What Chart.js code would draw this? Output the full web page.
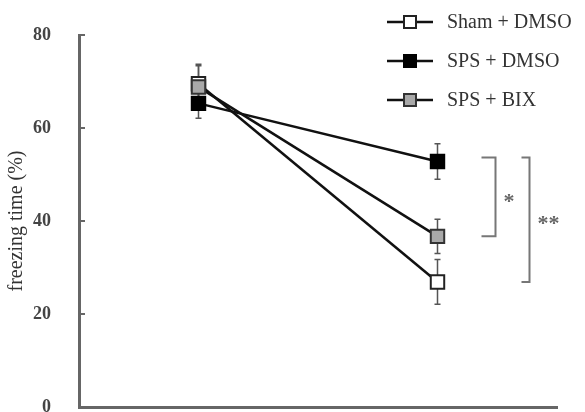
<!DOCTYPE html>
<html>
<head>
<meta charset="utf-8">
<script src="https://cdn.jsdelivr.net/npm/chart.js@4/dist/chart.umd.min.js"></script>
<style>
html,body{margin:0;padding:0;background:#fff;}
canvas{display:block;}
</style>
</head>
<body>
<canvas id="c" width="585" height="412"></canvas>
<script>
// ---- data ----
const categories = ['Pre', 'Post'];
const seriesNames = ['Sham + DMSO', 'SPS + DMSO', 'SPS + BIX'];
const shamDmso = [69.5, 26.9];
const shamDmsoErr = [4.2, 4.8];
const spsDmso = [65.3, 52.8];
const spsDmsoErr = [3.2, 3.8];
const spsBix = [68.8, 36.7];
const spsBixErr = [4.6, 3.7];
const yTicks = [0, 20, 40, 60, 80];
const yTitle = 'freezing time (%)';
const sigPairs = [[1, 2, '*'], [1, 0, '**']];

const values = [shamDmso, spsDmso, spsBix];
const errors = [shamDmsoErr, spsDmsoErr, spsBixErr];
const fills = ['#ffffff', '#000000', '#a9a9a9'];
const borders = ['#222222', '#000000', '#333333'];
const orders = [2, 1, 0];

const FONT = "'Liberation Serif', 'DejaVu Serif', serif";

const datasets = seriesNames.map((name, i) => ({
  label: name,
  data: values[i],
  borderColor: '#111',
  borderWidth: 2.5,
  pointStyle: 'rect',
  pointRadius: 9.5,
  pointHoverRadius: 9.5,
  pointBackgroundColor: fills[i],
  pointBorderColor: borders[i],
  pointBorderWidth: 2,
  order: orders[i],
  tension: 0
}));

const extras = {
  id: 'extras',
  beforeDatasetsDraw(chart) {
    const ctx = chart.ctx;
    const xs = chart.scales.x, ys = chart.scales.y;
    ctx.save();
    ctx.strokeStyle = '#555';
    ctx.lineWidth = 1.5;
    values.forEach((arr, i) => {
      arr.forEach((v, j) => {
        const x = xs.getPixelForValue(j);
        const yt = ys.getPixelForValue(v + errors[i][j]);
        const yb = ys.getPixelForValue(v - errors[i][j]);
        ctx.beginPath();
        ctx.moveTo(x, yt); ctx.lineTo(x, yb);
        ctx.moveTo(x - 3, yt); ctx.lineTo(x + 3, yt);
        ctx.moveTo(x - 3, yb); ctx.lineTo(x + 3, yb);
        ctx.stroke();
      });
    });
    ctx.restore();
  },
  afterDraw(chart) {
    const ctx = chart.ctx;
    const xs = chart.scales.x, ys = chart.scales.y;
    const area = chart.chartArea;
    ctx.save();
    ctx.strokeStyle = '#666';
    ctx.lineWidth = 2;
    yTicks.forEach(v => {
      const y = ys.getPixelForValue(v);
      ctx.beginPath();
      ctx.moveTo(area.left, y);
      ctx.lineTo(area.left + 6, y);
      ctx.stroke();
    });
    const last = categories.length - 1;
    const px = xs.getPixelForValue(last);
    ctx.strokeStyle = '#777';
    ctx.lineWidth = 2;
    ctx.fillStyle = '#666';
    ctx.textAlign = 'left';
    ctx.textBaseline = 'middle';
    sigPairs.forEach((p, k) => {
      const yA = ys.getPixelForValue(values[p[0]][last]) - 4;
      const yB = ys.getPixelForValue(values[p[1]][last]);
      const armX = px + 44 + k * 40;
      const vx = armX + 14 - k * 6;
      ctx.beginPath();
      ctx.moveTo(armX, yA); ctx.lineTo(vx, yA); ctx.lineTo(vx, yB); ctx.lineTo(armX, yB);
      ctx.stroke();
      ctx.font = 'bold 22px ' + FONT;
      ctx.fillText(p[2], vx + 8, (yA + yB) / 2 + 5);
    });
    seriesNames.forEach((name, i) => {
      const cy = 22 + i * 39;
      ctx.strokeStyle = '#111';
      ctx.lineWidth = 2.5;
      ctx.beginPath();
      ctx.moveTo(387, cy); ctx.lineTo(433, cy);
      ctx.stroke();
      ctx.fillStyle = fills[i];
      ctx.fillRect(404, cy - 6, 12, 12);
      ctx.strokeStyle = borders[i];
      ctx.lineWidth = 2;
      ctx.strokeRect(404, cy - 6, 12, 12);
      ctx.fillStyle = '#333';
      ctx.font = '20px ' + FONT;
      ctx.textAlign = 'left';
      ctx.textBaseline = 'middle';
      ctx.fillText(name, 447, cy + 1);
    });
    ctx.restore();
  }
};

new Chart(document.getElementById('c'), {
  type: 'line',
  data: { labels: categories, datasets },
  options: {
    responsive: false,
    animation: false,
    devicePixelRatio: 1,
    layout: { autoPadding: false, padding: { top: 35, right: 28, left: 0, bottom: 0 } },
    plugins: { legend: { display: false }, tooltip: { enabled: false } },
    scales: {
      x: {
        type: 'category',
        offset: true,
        grid: { display: false },
        border: { display: true, color: '#666', width: 3 },
        ticks: { display: false },
        afterFit(s) { s.height = 5; }
      },
      y: {
        min: 0, max: 80,
        afterBuildTicks(s) { s.ticks = yTicks.map(v => ({ value: v })); },
        grid: { display: false },
        border: { display: true, color: '#666', width: 3 },
        ticks: { padding: 20, color: '#444', font: { family: FONT, size: 18, weight: 'bold' } },
        title: { display: true, text: yTitle, color: '#333', padding: { top: 5, bottom: 0 }, font: { family: FONT, size: 20 } },
        afterFit(s) { s.width = 79; s.paddingTop = 0; s.paddingBottom = 0; }
      }
    }
  },
  plugins: [extras]
});
</script>
</body>
</html>
